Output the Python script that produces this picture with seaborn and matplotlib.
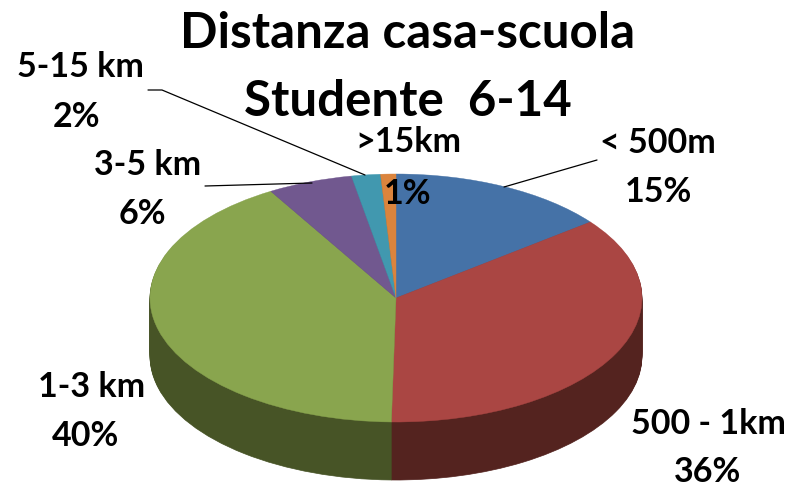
import matplotlib
matplotlib.use("Agg")
import matplotlib.pyplot as plt
import seaborn as sns
import numpy as np

categories = ["< 500m", "500 - 1km", "1-3 km", "3-5 km", "5-15 km", ">15km"]
percent = [15, 36, 40, 6, 2, 1]
# slice sizes as drawn in the picture (the tilted pie does not quite follow the labels)
slice_share = [14.5, 35.8, 41.2, 5.6, 1.9, 1.0]
top_colors = ["#4572a7", "#aa4643", "#89a54e", "#71588f", "#4198af", "#db843d"]
side_colors = ["#2b4568", "#54231f", "#475426", "#392c48", "#214c58", "#6e421f"]
title_lines = ["Distanza casa-scuola", "Studente  6-14"]

sns.set_theme(style="white")
plt.rcParams["font.family"] = ["Lato", "DejaVu Sans"]

W, H = 790, 484
fig = plt.figure(figsize=(W / 100, H / 100), dpi=100)
ax = fig.add_axes([0, 0, 1, 1])

# one pie unit = 246 px wide, 124 px tall (flattened disc)
cx, cy = 396, 298
rx, ry = 246, 124
depth = 58

def to_x(px):
    return (px - cx) / rx

def to_y(py):
    return (cy - py) / ry

# side wall: stacked dark copies of the disc, then the lit top
for d in np.arange(depth, 0, -1):
    wedges, _ = ax.pie(slice_share, colors=side_colors, startangle=90, counterclock=False,
                       center=(0, -d / ry), radius=1)
    for w in wedges:
        w.set_edgecolor(w.get_facecolor())
        w.set_linewidth(0.5)
wedges, _ = ax.pie(slice_share, colors=top_colors, startangle=90, counterclock=False,
                   center=(0, 0), radius=1)
for w in wedges:
    w.set_edgecolor(w.get_facecolor())
    w.set_linewidth(0.3)

ax.set_aspect("auto")
ax.set_xlim(to_x(0), to_x(W))
ax.set_ylim(to_y(H), to_y(0))
ax.axis("off")

ax.text(to_x(408), to_y(33), title_lines[0], fontsize=35.5, fontweight="bold",
        ha="center", va="center", color="black")
ax.text(to_x(408), to_y(101), title_lines[1], fontsize=35.5, fontweight="bold",
        ha="center", va="center", color="black")

# label centres in picture pixels, order follows categories
name_x = [658, 708, 92, 148, 80, 408]
pct_x = [658, 708, 85, 142, 76, 408]
name_y = [143, 424, 387, 165, 67, 142]
pct_y = [192, 472, 436, 214, 117, 194]
for name, val, nx, px, ny, py in zip(categories, percent, name_x, pct_x, name_y, pct_y):
    ax.text(to_x(nx), to_y(ny), name, fontsize=24.5, fontweight="bold",
            ha="center", va="center", color="black", clip_on=False)
    ax.text(to_x(px), to_y(py), f"{val}%", fontsize=24.5, fontweight="bold",
            ha="center", va="center", color="black", clip_on=False)

# leader lines
leader_x = [[504, 597], [205, 312], [148, 162, 365]]
leader_y = [[187, 160], [186, 183], [90, 90, 175]]
for lx, ly in zip(leader_x, leader_y):
    ax.plot([to_x(v) for v in lx], [to_y(v) for v in ly], color="black", lw=0.9)

fig.savefig("out.png", dpi=100, facecolor="white")
